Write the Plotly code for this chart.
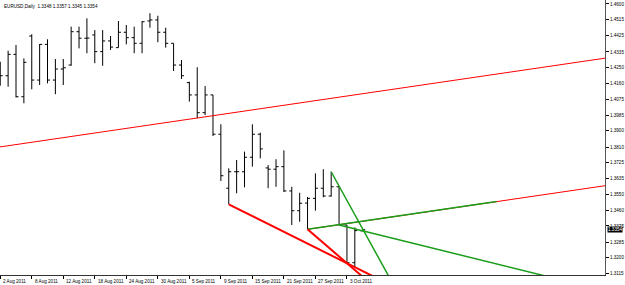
import plotly.graph_objects as go

symbol = "EURUSD"
period = "Daily"

# Daily bars, 2 Aug 2011 .. 5 Oct 2011 (index 0 = 2 Aug 2011)
bar_index = list(range(47))
opens = [1.4258, 1.4204, 1.4322, 1.4088, 1.4423, 1.4180, 1.4377, 1.4180, 1.4241, 1.4263,
         1.4447, 1.4411, 1.4429, 1.4337, 1.4396, 1.4359, 1.4444, 1.4414, 1.4383, 1.4506,
         1.4512, 1.4444, 1.4383, 1.4263, 1.4166, 1.4098, 1.4000, 1.4098, 1.3881, 1.3583,
         1.3674, 1.3674, 1.3754, 1.3881, 1.3695, 1.3688, 1.3702, 1.3568, 1.3459, 1.3501,
         1.3527, 1.3583, 1.3540, 1.3591, 1.3380, 1.3172, 1.3348]
highs = [1.4281, 1.4342, 1.4374, 1.4300, 1.4433, 1.4379, 1.4405, 1.4296, 1.4296, 1.4475,
         1.4475, 1.4521, 1.4456, 1.4456, 1.4423, 1.4506, 1.4484, 1.4475, 1.4506, 1.4549,
         1.4535, 1.4469, 1.4383, 1.4291, 1.4171, 1.4251, 1.4147, 1.4098, 1.3936, 1.3693,
         1.3739, 1.3785, 1.3936, 1.3890, 1.3711, 1.3743, 1.3792, 1.3591, 1.3558, 1.3535,
         1.3665, 1.3688, 1.3674, 1.3593, 1.3380, 1.3367, 1.3357]
lows = [1.4149, 1.4143, 1.4084, 1.4052, 1.4129, 1.4153, 1.4162, 1.4102, 1.4153, 1.4259,
        1.4355, 1.4328, 1.4273, 1.4259, 1.4346, 1.4359, 1.4377, 1.4328, 1.4328, 1.4469,
        1.4389, 1.4359, 1.4230, 1.4186, 1.4061, 1.3969, 1.3987, 1.3871, 1.3623, 1.3494,
        1.3555, 1.3588, 1.3702, 1.3748, 1.3583, 1.3591, 1.3562, 1.3380, 1.3398, 1.3356,
        1.3459, 1.3533, 1.3537, 1.3380, 1.3169, 1.3147, 1.3345]
closes = [1.4204, 1.4322, 1.4088, 1.4278, 1.4180, 1.4377, 1.4180, 1.4241, 1.4248, 1.4447,
          1.4411, 1.4412, 1.4337, 1.4396, 1.4362, 1.4444, 1.4414, 1.4383, 1.4502, 1.4512,
          1.4444, 1.4383, 1.4263, 1.4204, 1.4098, 1.4000, 1.4098, 1.3881, 1.3652, 1.3674,
          1.3674, 1.3754, 1.3881, 1.3800, 1.3688, 1.3702, 1.3568, 1.3459, 1.3500, 1.3527,
          1.3583, 1.3540, 1.3591, 1.3380, 1.3172, 1.3349, 1.3354]

tick_index = [0, 4, 8, 12, 16, 20, 24, 28, 32, 36, 40, 44]
tick_labels = ["2 Aug 2011", "8 Aug 2011", "12 Aug 2011", "18 Aug 2011", "24 Aug 2011",
               "30 Aug 2011", "5 Sep 2011", "9 Sep 2011", "15 Sep 2011", "21 Sep 2011",
               "27 Sep 2011", "3 Oct 2011"]
price_ticks = [1.4600, 1.4515, 1.4425, 1.4335, 1.4250, 1.4160, 1.4075, 1.3985, 1.3900,
               1.3810, 1.3725, 1.3635, 1.3550, 1.3460, 1.3375, 1.3285, 1.3200, 1.3115]

# Trendline anchors: (bar index, price)
channel_base = [(10, 1.3875), (60, 1.4194)]
channel_parallel_anchor = (39, 1.3356)
red_ray_a = [(29, 1.3494), (44, 1.3169)]
red_ray_b = [(39, 1.3356), (44, 1.3169)]
green_ray_a = [(42, 1.3674), (48, 1.3200)]
green_ray_b = [(43, 1.3380), (51, 1.3294)]
green_segment_end_bar = 63

X_RANGE = [-0.03, 76.75]
Y_RANGE = [1.3104, 1.4622]


def line_at(p1, p2, x):
    (x1, y1), (x2, y2) = p1, p2
    return y1 + (y2 - y1) / (x2 - x1) * (x - x1)


fig = go.Figure()

RED = "#ff0000"
GREEN = "#1a9e1a"

# equidistant channel (thin red)
xs = [-5, 85]
fig.add_trace(go.Scatter(x=xs, y=[line_at(*channel_base, x) for x in xs], mode="lines",
                         line=dict(color=RED, width=1), hoverinfo="skip"))
slope = (channel_base[1][1] - channel_base[0][1]) / (channel_base[1][0] - channel_base[0][0])
px0, py0 = channel_parallel_anchor
par_end = (85, py0 + slope * (85 - px0))
fig.add_trace(go.Scatter(x=[px0, par_end[0]], y=[py0, par_end[1]], mode="lines",
                         line=dict(color=RED, width=1), hoverinfo="skip"))

# green segment lying on the parallel line
gx = green_segment_end_bar
fig.add_trace(go.Scatter(x=[px0, gx], y=[py0, line_at(channel_parallel_anchor, par_end, gx)],
                         mode="lines", line=dict(color=GREEN, width=1.5), hoverinfo="skip"))
for ray in (green_ray_a, green_ray_b):
    fig.add_trace(go.Scatter(x=[ray[0][0], 85], y=[ray[0][1], line_at(*ray, 85)], mode="lines",
                             line=dict(color=GREEN, width=1.5), hoverinfo="skip"))

# red rays
for ray in (red_ray_a, red_ray_b):
    fig.add_trace(go.Scatter(x=[ray[0][0], 85], y=[ray[0][1], line_at(*ray, 85)], mode="lines",
                             line=dict(color=RED, width=2), hoverinfo="skip"))

# OHLC bars
fig.add_trace(go.Ohlc(x=bar_index, open=opens, high=highs, low=lows, close=closes,
                      increasing=dict(line=dict(color="black", width=1)),
                      decreasing=dict(line=dict(color="black", width=1)),
                      tickwidth=0.32, hoverinfo="skip"))

FONT = "Liberation Sans, Arial, sans-serif"
annotations = []
for xi, lab in zip(tick_index, tick_labels):
    annotations.append(dict(x=xi, y=0, xref="x", yref="paper", text=lab, showarrow=False,
                            xanchor="left", yanchor="top", xshift=1, yshift=-2,
                            font=dict(family=FONT, size=4.6, color="black")))
annotations.append(dict(x=0, y=1, xref="paper", yref="paper",
                        text=f"{symbol},{period}  {opens[-1]:.4f} {highs[-1]:.4f} {lows[-1]:.4f} {closes[-1]:.4f}",
                        showarrow=False, xanchor="left", yanchor="top", xshift=2, yshift=-2,
                        font=dict(family=FONT, size=4.6, color="black")))
annotations.append(dict(x=1, y=closes[-1], xref="paper", yref="y", text=f"{closes[-1]:.4f}",
                        showarrow=False, xanchor="left", yanchor="middle", xshift=2,
                        bgcolor="black", borderpad=0,
                        font=dict(family=FONT, size=4.6, color="white")))

fig.update_layout(
    width=625, height=285,
    margin=dict(l=0, r=20, t=0, b=10),
    paper_bgcolor="white", plot_bgcolor="white",
    showlegend=False,
    annotations=annotations,
    xaxis=dict(range=X_RANGE, rangeslider=dict(visible=False), showgrid=False, zeroline=False,
               tickmode="array", tickvals=tick_index, showticklabels=False,
               ticks="outside", ticklen=3, tickcolor="black",
               showline=True, linecolor="#333", linewidth=1),
    yaxis=dict(range=Y_RANGE, side="right", showgrid=False, zeroline=False,
               tickmode="array", tickvals=price_ticks,
               ticktext=[f"{v:.4f}" for v in price_ticks],
               ticks="outside", ticklen=3, tickcolor="black",
               tickfont=dict(family=FONT, size=4.6, color="black"),
               showline=True, linecolor="#555", linewidth=1),
)

fig.write_html("out.html")
